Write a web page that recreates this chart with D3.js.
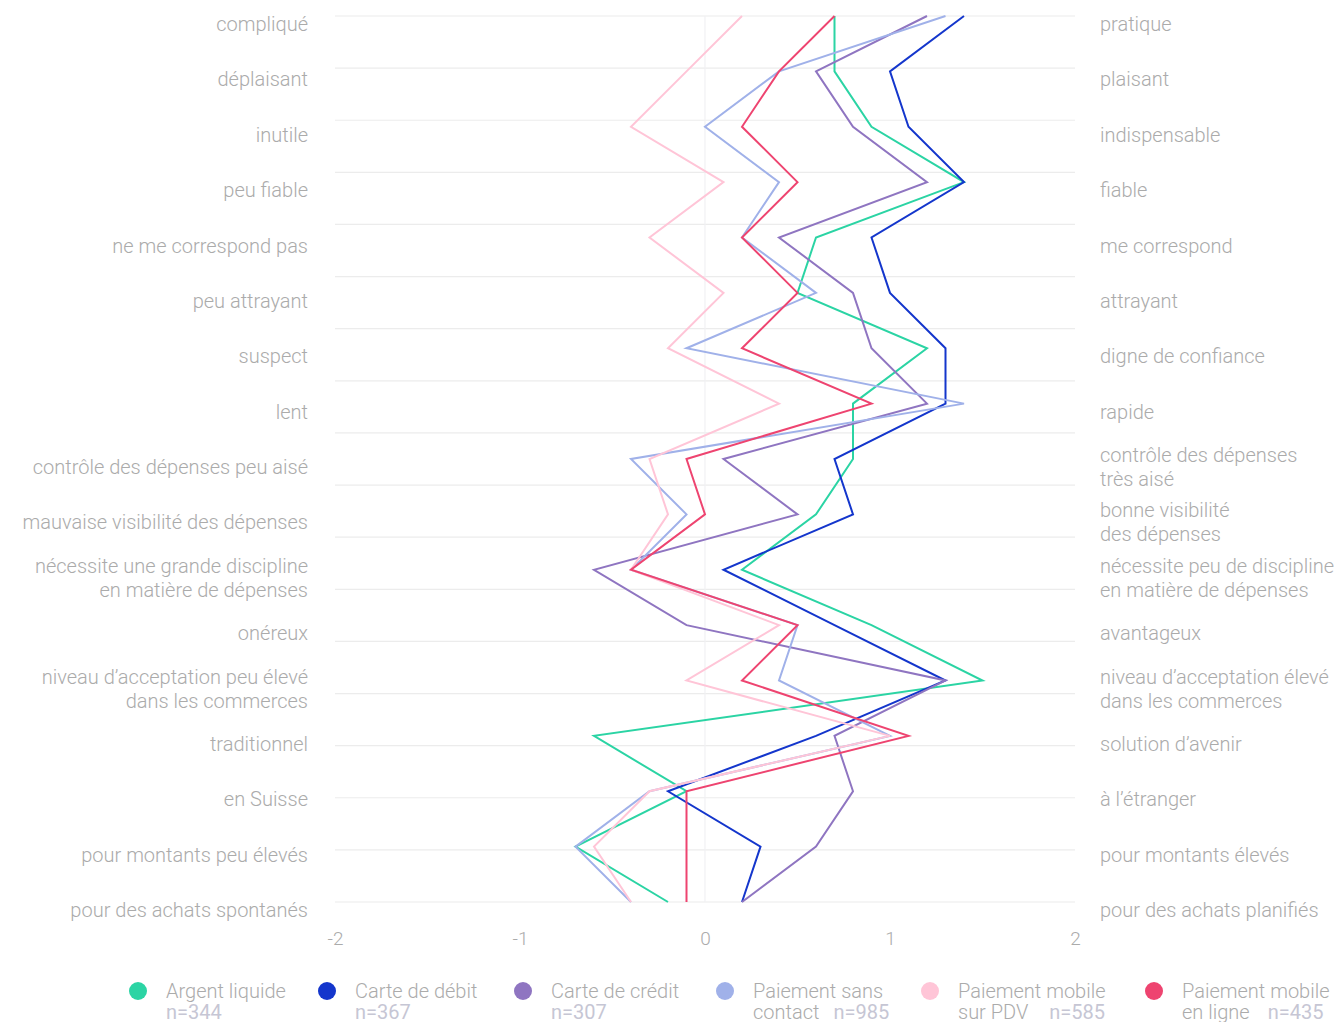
<!DOCTYPE html>
<html>
<head>
<meta charset="utf-8">
<script src="https://cdn.jsdelivr.net/npm/d3@7"></script>
<style>
	body { margin: 0; background: #fff; }
	svg text { font-family: Roboto, "Noto Sans", sans-serif; font-weight: 300; }
</style>
</head>
<body>
<svg id="chart" width="1335" height="1022"></svg>
<script>
// left / right poles of each item
var leftLabels = [
	["compliqué"], ["déplaisant"], ["inutile"], ["peu fiable"], ["ne me correspond pas"],
	["peu attrayant"], ["suspect"], ["lent"], ["contrôle des dépenses peu aisé"],
	["mauvaise visibilité des dépenses"], ["nécessite une grande discipline", "en matière de dépenses"],
	["onéreux"], ["niveau d’acceptation peu élevé", "dans les commerces"], ["traditionnel"],
	["en Suisse"], ["pour montants peu élevés"], ["pour des achats spontanés"]
];
var rightLabels = [
	["pratique"], ["plaisant"], ["indispensable"], ["fiable"], ["me correspond"],
	["attrayant"], ["digne de confiance"], ["rapide"], ["contrôle des dépenses", "très aisé"],
	["bonne visibilité", "des dépenses"], ["nécessite peu de discipline", "en matière de dépenses"],
	["avantageux"], ["niveau d’acceptation élevé", "dans les commerces"], ["solution d’avenir"],
	["à l’étranger"], ["pour montants élevés"], ["pour des achats planifiés"]
];

var xTicks = [-2, -1, 0, 1, 2];

var seriesNames = [
	["Argent liquide"], ["Carte de débit"], ["Carte de crédit"],
	["Paiement sans", "contact"], ["Paiement mobile", "sur PDV"], ["Paiement mobile", "en ligne"]
];
var seriesN = [344, 367, 307, 985, 585, 435];
var seriesColors = ["#2bd4a4", "#1436cc", "#8f75c1", "#a0b1e9", "#ffc5d7", "#ee4470"];

var cash        = [0.7, 0.7, 0.9, 1.4, 0.6, 0.5, 1.2, 0.8, 0.8, 0.6, 0.2, 0.9, 1.5, -0.6, -0.1, -0.7, -0.2];
var debitCard   = [1.4, 1.0, 1.1, 1.4, 0.9, 1.0, 1.3, 1.3, 0.7, 0.8, 0.1, 0.7, 1.3, 0.6, -0.2, 0.3, 0.2];
var creditCard  = [1.2, 0.6, 0.8, 1.2, 0.4, 0.8, 0.9, 1.2, 0.1, 0.5, -0.6, -0.1, 1.3, 0.7, 0.8, 0.6, 0.2];
var contactless = [1.3, 0.4, 0.0, 0.4, 0.2, 0.6, -0.1, 1.4, -0.4, -0.1, -0.4, 0.5, 0.4, 1.0, -0.3, -0.7, -0.4];
var mobilePos   = [0.2, -0.1, -0.4, 0.1, -0.3, 0.1, -0.2, 0.4, -0.3, -0.2, -0.4, 0.4, -0.1, 1.0, -0.3, -0.6, -0.4];
var mobileWeb   = [0.7, 0.4, 0.2, 0.5, 0.2, 0.5, 0.2, 0.9, -0.1, 0.0, -0.4, 0.5, 0.2, 1.1, -0.1, -0.1, -0.1];

var allSeries = [cash, debitCard, creditCard, contactless, mobilePos, mobileWeb];

var svg = d3.select("svg#chart");
var textColor = "#ababab";
var nColor = "#c6c6d4";

var x = d3.scaleLinear().domain([-2, 2]).range([335, 1075]);
var y = d3.scaleLinear().domain([0, leftLabels.length - 1]).range([16, 902]);
// the horizontal rules use a slightly different spacing than the points
var yGrid = d3.scaleLinear().domain([0, leftLabels.length]).range([16, 902]);

var grid = svg.append("g").classed("grid", true);

grid.selectAll("line.h")
.data(d3.range(leftLabels.length + 1))
.enter().append("line")
.attr("x1", x(-2)).attr("x2", x(2))
.attr("y1", function (d) { return yGrid(d); })
.attr("y2", function (d) { return yGrid(d); })
.attr("stroke", "#ececec")
.attr("stroke-width", 1.2);

grid.append("line")
.attr("x1", x(0)).attr("x2", x(0))
.attr("y1", y(0)).attr("y2", y(leftLabels.length - 1))
.attr("stroke", "#f1f1f3")
.attr("stroke-width", 1.2);

// x axis
var axis = svg.append("g")
.attr("transform", "translate(0,938)")
.call(d3.axisBottom(x).tickValues(xTicks).tickSize(0).tickPadding(0)
	.tickFormat(function (d) { return String(d); }));
axis.select(".domain").remove();
axis.selectAll("text")
.attr("dy", "0.35em")
.attr("fill", textColor)
.style("font-size", "19px");

// pole labels
function drawLabels(labels, xPos, anchor)
{
	var g = svg.append("g");
	labels.forEach(function (lines, i) {
		var t = g.append("text")
		.attr("text-anchor", anchor)
		.attr("fill", textColor)
		.style("font-size", "20px");
		var top = y(i) + 8 - (lines.length - 1) * 12;
		lines.forEach(function (line, k) {
			t.append("tspan")
			.attr("x", xPos)
			.attr("y", top + k * 24)
			.attr("dy", "0.35em")
			.text(line);
		});
	});
}
drawLabels(leftLabels, 308, "end");
drawLabels(rightLabels, 1100, "start");

// series lines
var line = d3.line()
.x(function (d) { return x(d); })
.y(function (d, i) { return y(i); });

svg.append("g").selectAll("path")
.data(allSeries)
.enter().append("path")
.attr("d", line)
.attr("fill", "none")
.attr("stroke", function (d, i) { return seriesColors[i]; })
.attr("stroke-width", 2)
.attr("stroke-linejoin", "miter");

// legend
var legendX = [138, 327, 523, 725, 930, 1154];
var nGap = [0, 0, 0, 14, 21, 18];
var legend = svg.append("g");
seriesNames.forEach(function (lines, i) {
	var g = legend.append("g").attr("transform", "translate(" + legendX[i] + ",991)");
	g.append("circle").attr("r", 9).attr("fill", seriesColors[i]);
	var t = g.append("text")
	.attr("fill", textColor)
	.style("font-size", "20px");
	t.append("tspan").attr("x", 28).attr("y", 7).text(lines[0]);
	if (lines.length > 1) {
		t.append("tspan").attr("x", 28).attr("y", 28).text(lines[1]);
		t.append("tspan").attr("dx", nGap[i]).attr("fill", nColor)
		.style("font-weight", 400).text("n=" + seriesN[i]);
	} else {
		t.append("tspan").attr("x", 28).attr("y", 28).attr("fill", nColor)
		.style("font-weight", 400).text("n=" + seriesN[i]);
	}
});
</script>
</body>
</html>
